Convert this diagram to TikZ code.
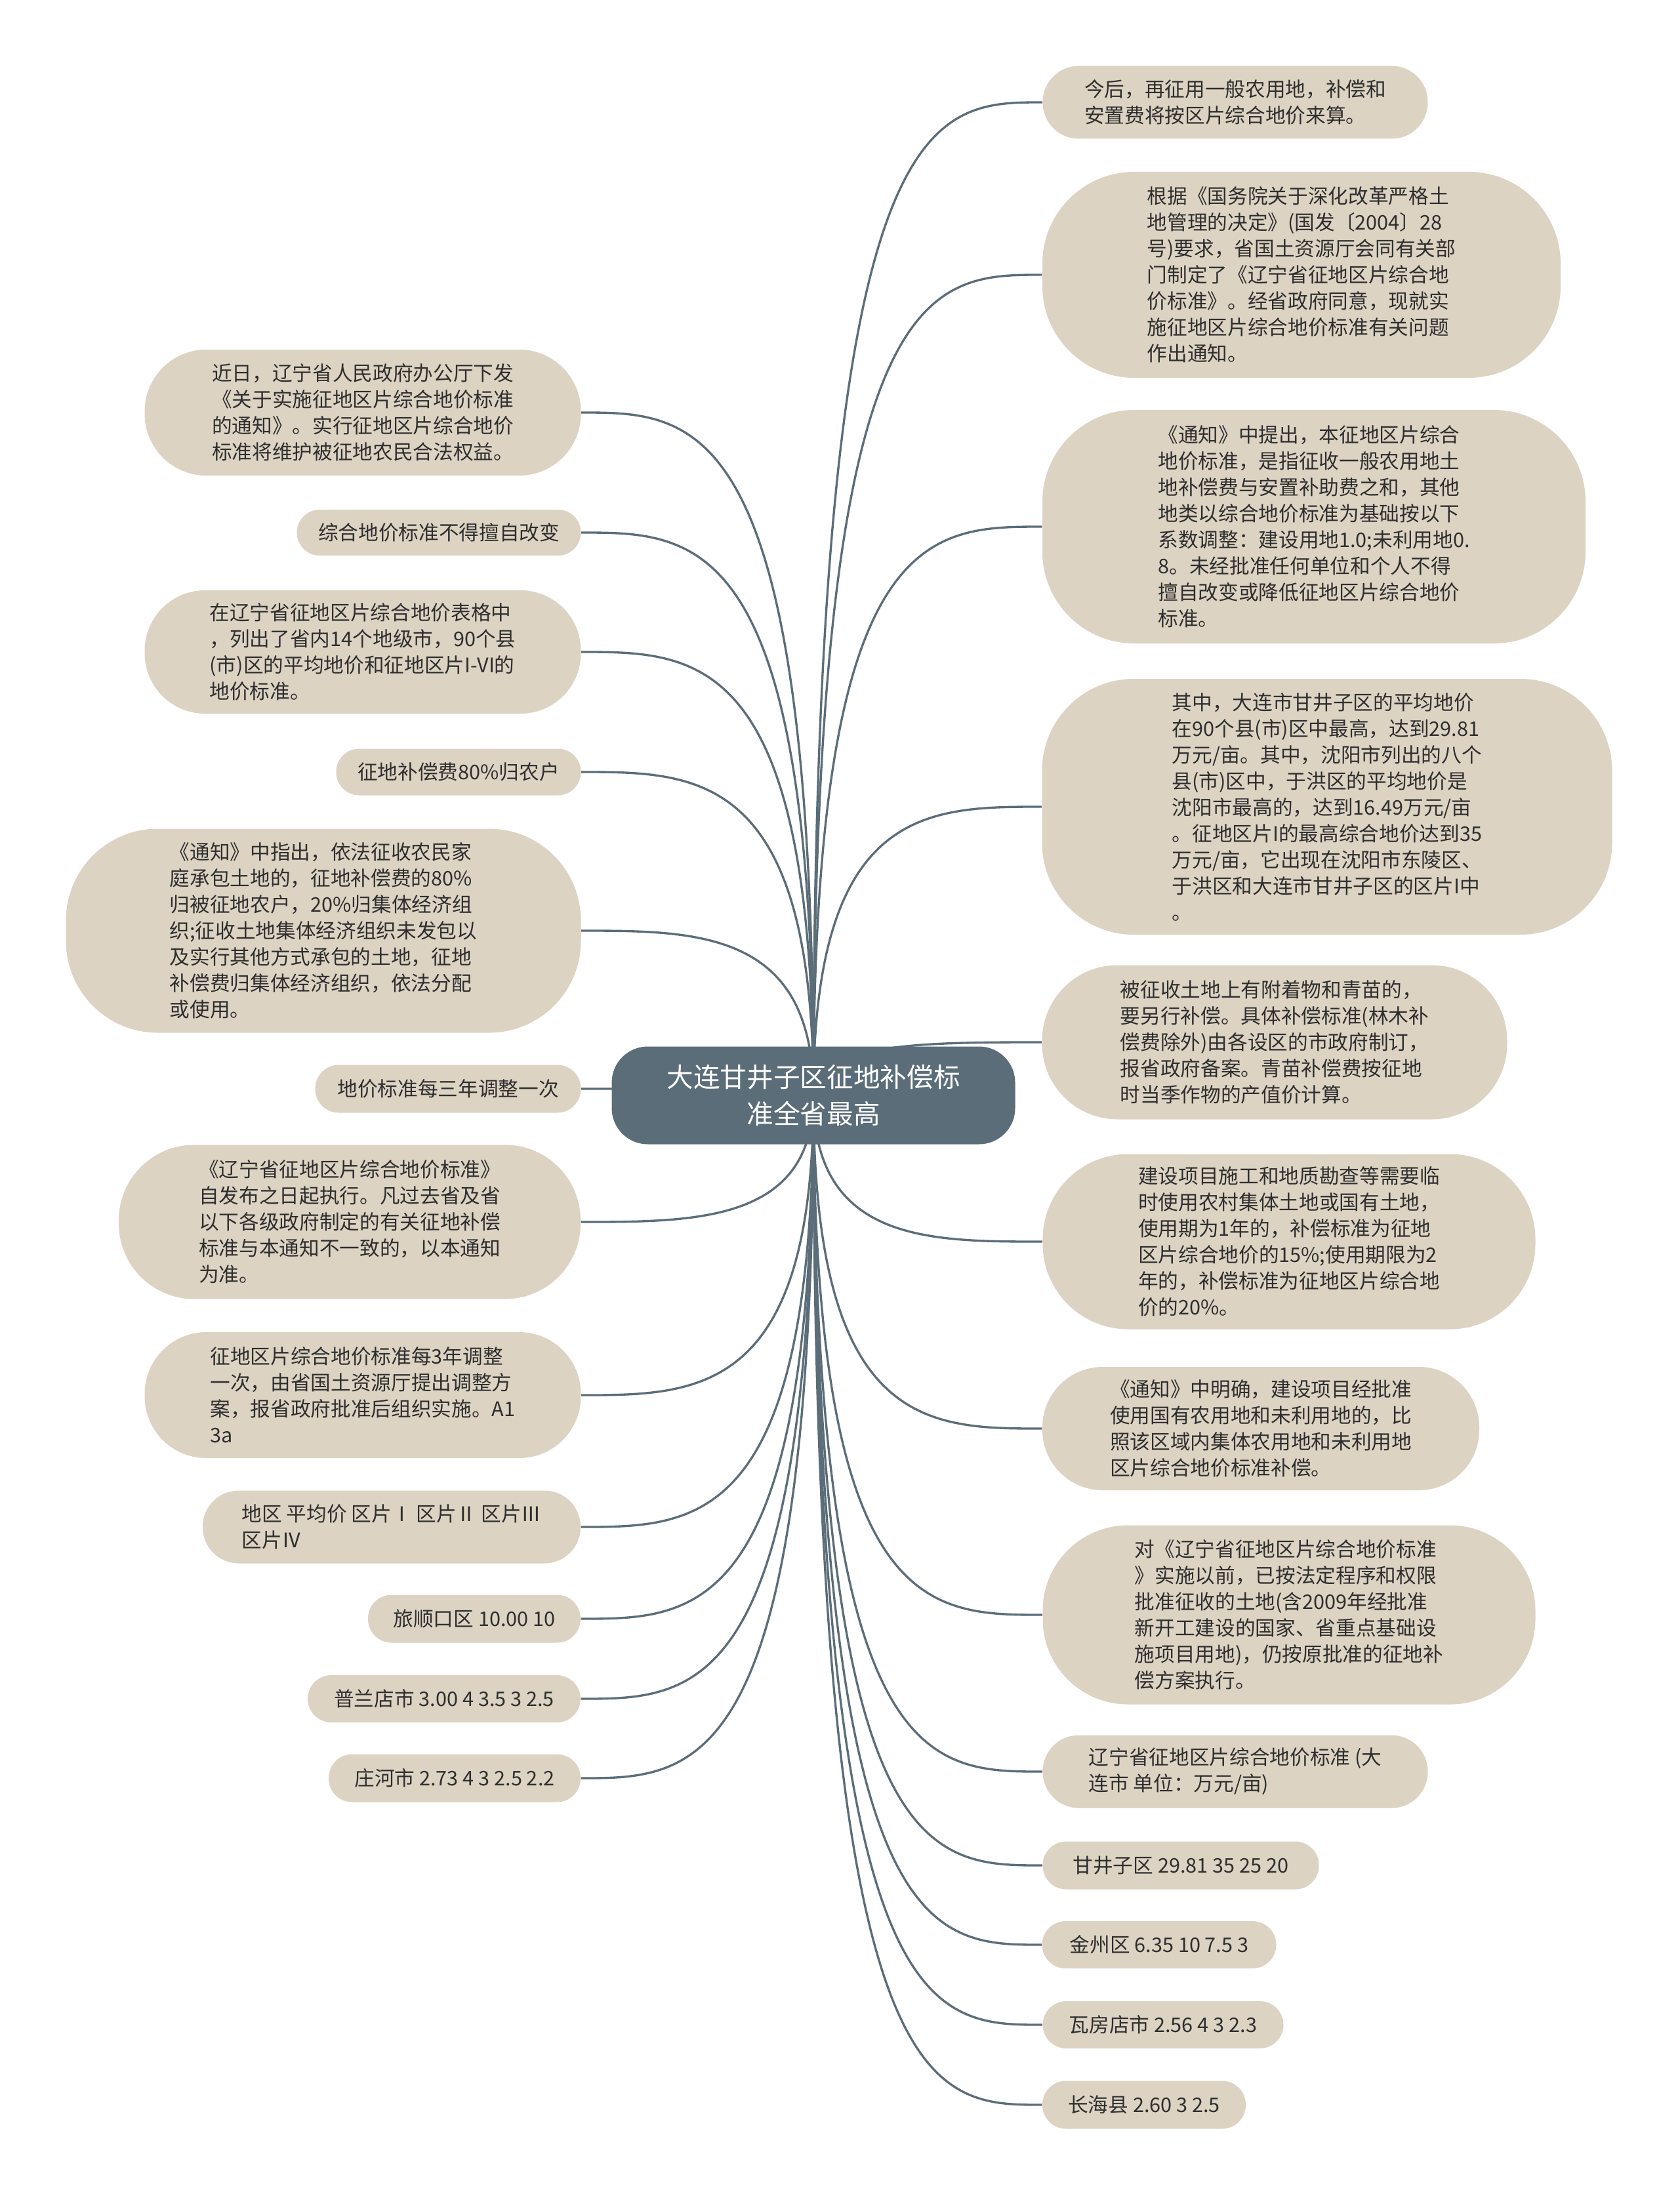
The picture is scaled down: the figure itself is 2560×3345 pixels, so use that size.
\documentclass[tikz,border=0pt]{standalone}
\usepackage{fontspec}
\setmainfont{Noto Sans CJK SC}
\usetikzlibrary{calc,backgrounds}
\definecolor{leaffill}{HTML}{DDD3C3}
\definecolor{slate}{HTML}{5B6D79}
\definecolor{txt}{HTML}{2E2E2E}
\tikzset{
  leafbox/.style={fill=leaffill, text=txt, inner sep=0pt, align=left,
    font=\fontsize{9.2pt}{12pt}\selectfont},
  rootbox/.style={fill=slate, text=white, inner sep=0pt, align=center,
    font=\fontsize{12.2pt}{16.6pt}\selectfont},
  conn/.style={draw=slate, line width=1pt},
}
% name, cx, cy, w, h, r, text   (pixel units)
\newcommand\leafnode[7]{\node[leafbox, minimum width={#4*0.3pt}, minimum height={#5*0.3pt}, rounded corners={#6*0.3pt}] (#1) at (#2,#3) {#7};}
\newcommand\rconn[1]{\draw[conn] (root.center) .. controls (root.center |- #1.west) and ($(root.center |- #1.west)!0.5!(#1.west)$) .. (#1.west);}
\newcommand\lconn[1]{\draw[conn] (root.center) .. controls (root.center |- #1.east) and ($(root.center |- #1.east)!0.5!(#1.east)$) .. (#1.east);}
\begin{document}
\begin{tikzpicture}[x=0.3pt, y=-0.3pt]
\useasboundingbox (0,0) rectangle (2560,3345);

\node[rootbox, minimum width={615*0.3pt}, minimum height={149*0.3pt}, rounded corners={55*0.3pt}] (root) at (1240,1670) {大连甘井子区征地补偿标\\准全省最高};

% right side
\leafnode{R1}{1883}{156}{587}{111}{55}{今后，再征用一般农用地，补偿和\\安置费将按区片综合地价来算。}
\leafnode{R2}{1984}{419}{790}{314}{140}{根据《国务院关于深化改革严格土\\地管理的决定》(国发〔2004〕28\\号)要求，省国土资源厅会同有关部\\门制定了《辽宁省征地区片综合地\\价标准》。经省政府同意，现就实\\施征地区片综合地价标准有关问题\\作出通知。}
\leafnode{R3}{2003}{803}{828}{356}{140}{《通知》中提出，本征地区片综合\\地价标准，是指征收一般农用地土\\地补偿费与安置补助费之和，其他\\地类以综合地价标准为基础按以下\\系数调整：建设用地1.0;未利用地0.\\8。未经批准任何单位和个人不得\\擅自改变或降低征地区片综合地价\\标准。}
\leafnode{R4}{2023}{1230}{869}{390}{140}{其中，大连市甘井子区的平均地价\\在90个县(市)区中最高，达到29.81\\万元/亩。其中，沈阳市列出的八个\\县(市)区中，于洪区的平均地价是\\沈阳市最高的，达到16.49万元/亩\\。征地区片I的最高综合地价达到35\\万元/亩，它出现在沈阳市东陵区、\\于洪区和大连市甘井子区的区片I中\\。}
\leafnode{R5}{1943}{1589}{709}{235}{115}{被征收土地上有附着物和青苗的，\\要另行补偿。具体补偿标准(林木补\\偿费除外)由各设区的市政府制订，\\报省政府备案。青苗补偿费按征地\\时当季作物的产值价计算。}
\leafnode{R6}{1965}{1893}{751}{267}{130}{建设项目施工和地质勘查等需要临\\时使用农村集体土地或国有土地，\\使用期为1年的，补偿标准为征地\\区片综合地价的15\%;使用期限为2\\年的，补偿标准为征地区片综合地\\价的20\%。}
\leafnode{R7}{1922}{2178}{666}{188}{92}{《通知》中明确，建设项目经批准\\使用国有农用地和未利用地的，比\\照该区域内集体农用地和未利用地\\区片综合地价标准补偿。}
\leafnode{R8}{1965}{2462}{751}{273}{130}{对《辽宁省征地区片综合地价标准\\》实施以前，已按法定程序和权限\\批准征收的土地(含2009年经批准\\新开工建设的国家、省重点基础设\\施项目用地)，仍按原批准的征地补\\偿方案执行。}
\leafnode{R9}{1883}{2701}{587}{111}{55}{辽宁省征地区片综合地价标准 (大\\连市 单位：万元/亩)}
\leafnode{R10}{1800}{2844}{421}{73}{36}{甘井子区 29.81 35 25 20}
\leafnode{R11}{1767}{2965}{357}{72}{36}{金州区 6.35 10 7.5 3}
\leafnode{R12}{1773}{3087}{367}{72}{36}{瓦房店市 2.56 4 3 2.3}
\leafnode{R13}{1744}{3209}{310}{73}{36}{长海县 2.60 3 2.5}

% left side
\leafnode{L1}{553}{629}{665}{192}{94}{近日，辽宁省人民政府办公厅下发\\《关于实施征地区片综合地价标准\\的通知》。实行征地区片综合地价\\标准将维护被征地农民合法权益。}
\leafnode{L2}{669}{812}{433}{70}{35}{综合地价标准不得擅自改变}
\leafnode{L3}{553}{994}{665}{188}{92}{在辽宁省征地区片综合地价表格中\\，列出了省内14个地级市，90个县\\(市)区的平均地价和征地区片I-VI的\\地价标准。}
\leafnode{L4}{699}{1177}{373}{71}{35}{征地补偿费80\%归农户}
\leafnode{L5}{493}{1419}{785}{311}{140}{《通知》中指出，依法征收农民家\\庭承包土地的，征地补偿费的80\%\\归被征地农户，20\%归集体经济组\\织;征收土地集体经济组织未发包以\\及实行其他方式承包的土地，征地\\补偿费归集体经济组织，依法分配\\或使用。}
\leafnode{L6}{683}{1660}{405}{73}{36}{地价标准每三年调整一次}
\leafnode{L7}{533}{1863}{704}{235}{115}{《辽宁省征地区片综合地价标准》\\自发布之日起执行。凡过去省及省\\以下各级政府制定的有关征地补偿\\标准与本通知不一致的，以本通知\\为准。}
\leafnode{L8}{553}{2127}{665}{192}{94}{征地区片综合地价标准每3年调整\\一次，由省国土资源厅提出调整方\\案，报省政府批准后组织实施。A1\\3a}
\leafnode{L9}{597}{2328}{576}{111}{55}{地区 平均价 区片Ⅰ 区片Ⅱ 区片Ⅲ\\区片Ⅳ}
\leafnode{L10}{723}{2468}{324}{73}{36}{旅顺口区 10.00 10}
\leafnode{L11}{677}{2590}{416}{72}{36}{普兰店市 3.00 4 3.5 3 2.5}
\leafnode{L12}{693}{2711}{384}{73}{36}{庄河市 2.73 4 3 2.5 2.2}

\begin{scope}[on background layer]
  \fill[white] (0,0) rectangle (2560,3345);
  \foreach \n in {R1,R2,R3,R4,R5,R6,R7,R8,R9,R10,R11,R12,R13}{\rconn{\n}}
  \foreach \n in {L1,L2,L3,L4,L5,L6,L7,L8,L9,L10,L11,L12}{\lconn{\n}}
\end{scope}
\end{tikzpicture}
\end{document}
